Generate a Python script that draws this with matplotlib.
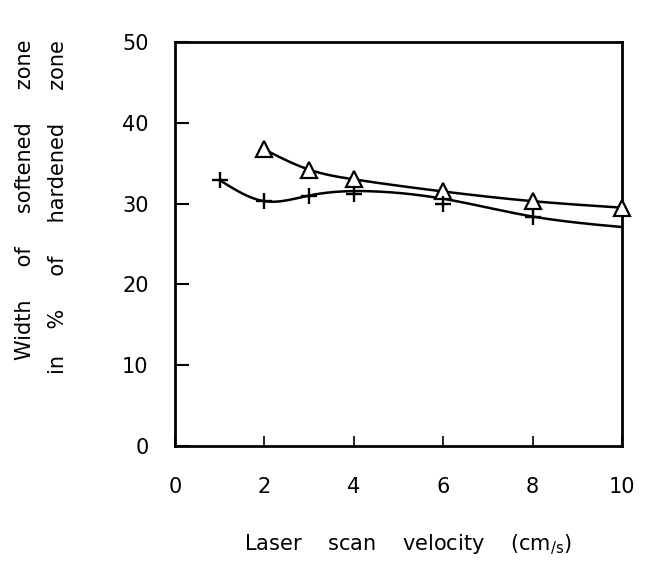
import numpy as np
import matplotlib
matplotlib.use("Agg")
import matplotlib.pyplot as plt

# ---- data ----
tri_x = [2, 3, 4, 6, 8, 10]
tri_y = [36.7, 34.2, 33.0, 31.5, 30.3, 29.5]

plus_x = [1, 2, 3, 4, 6, 8]
plus_y = [32.9, 30.3, 31.0, 31.2, 30.0, 28.3]

# smooth guide curve for the '+' series (drawn curve knots)
plus_curve_x = [1, 2, 3, 4.5, 6, 8, 10]
plus_curve_y = [32.9, 30.3, 31.0, 31.5, 30.6, 28.4, 27.1]

x_ticks = [0, 2, 4, 6, 8, 10]
y_ticks = [0, 10, 20, 30, 40, 50]


def natural_spline(xk, yk, n=300):
    xk = np.asarray(xk, float)
    yk = np.asarray(yk, float)
    m = len(xk)
    h = np.diff(xk)
    A = np.zeros((m, m))
    b = np.zeros(m)
    A[0, 0] = 1
    A[-1, -1] = 1
    for i in range(1, m - 1):
        A[i, i - 1] = h[i - 1]
        A[i, i] = 2 * (h[i - 1] + h[i])
        A[i, i + 1] = h[i]
        b[i] = 3 * ((yk[i + 1] - yk[i]) / h[i] - (yk[i] - yk[i - 1]) / h[i - 1])
    c = np.linalg.solve(A, b)
    xs = np.linspace(xk[0], xk[-1], n)
    ys = np.empty_like(xs)
    for j, xv in enumerate(xs):
        i = min(np.searchsorted(xk, xv, side="right") - 1, m - 2)
        dx = xv - xk[i]
        bb = (yk[i + 1] - yk[i]) / h[i] - h[i] * (2 * c[i] + c[i + 1]) / 3
        d = (c[i + 1] - c[i]) / (3 * h[i])
        ys[j] = yk[i] + bb * dx + c[i] * dx ** 2 + d * dx ** 3
    return xs, ys


fig = plt.figure(figsize=(6.46, 5.64), dpi=100)
ax = fig.add_axes([175 / 646, 1 - 446 / 564, (622 - 175) / 646, (446 - 42) / 564])

tx, ty = natural_spline(tri_x, tri_y)
ax.plot(tx, ty, color="black", lw=1.8)
ax.plot(tri_x, tri_y, linestyle="none", marker="^", markersize=11,
        markerfacecolor="white", markeredgecolor="black", markeredgewidth=1.6,
        zorder=3, clip_on=False)

px, py = natural_spline(plus_curve_x, plus_curve_y)
ax.plot(px, py, color="black", lw=1.8)
ax.plot(plus_x, plus_y, linestyle="none", marker="+", markersize=12,
        markeredgecolor="black", markeredgewidth=1.7, zorder=3, clip_on=False)

ax.set_xlim(0, 10)
ax.set_ylim(0, 50)
ax.set_xticks(x_ticks)
ax.set_yticks(y_ticks)
for s in ax.spines.values():
    s.set_linewidth(2)
ax.tick_params(axis="y", direction="in", length=10, width=1.5, pad=19, labelsize=15)
ax.tick_params(axis="x", direction="in", length=7, width=1.2, pad=22, labelsize=15)

fig.text(408 / 646, 1 - 545 / 564, "Laser    scan    velocity    (cm$_{\\mathregular{/s}}$)",
         ha="center", va="center", fontsize=15)
fig.text(25 / 646, 1 - 40 / 564, "Width     of     softened     zone", rotation=90,
         ha="center", va="top", fontsize=15)
fig.text(58 / 646, 1 - 40 / 564, "in    %     of     hardened     zone", rotation=90,
         ha="center", va="top", fontsize=15)

fig.savefig("out.png", dpi=100, facecolor="white")
